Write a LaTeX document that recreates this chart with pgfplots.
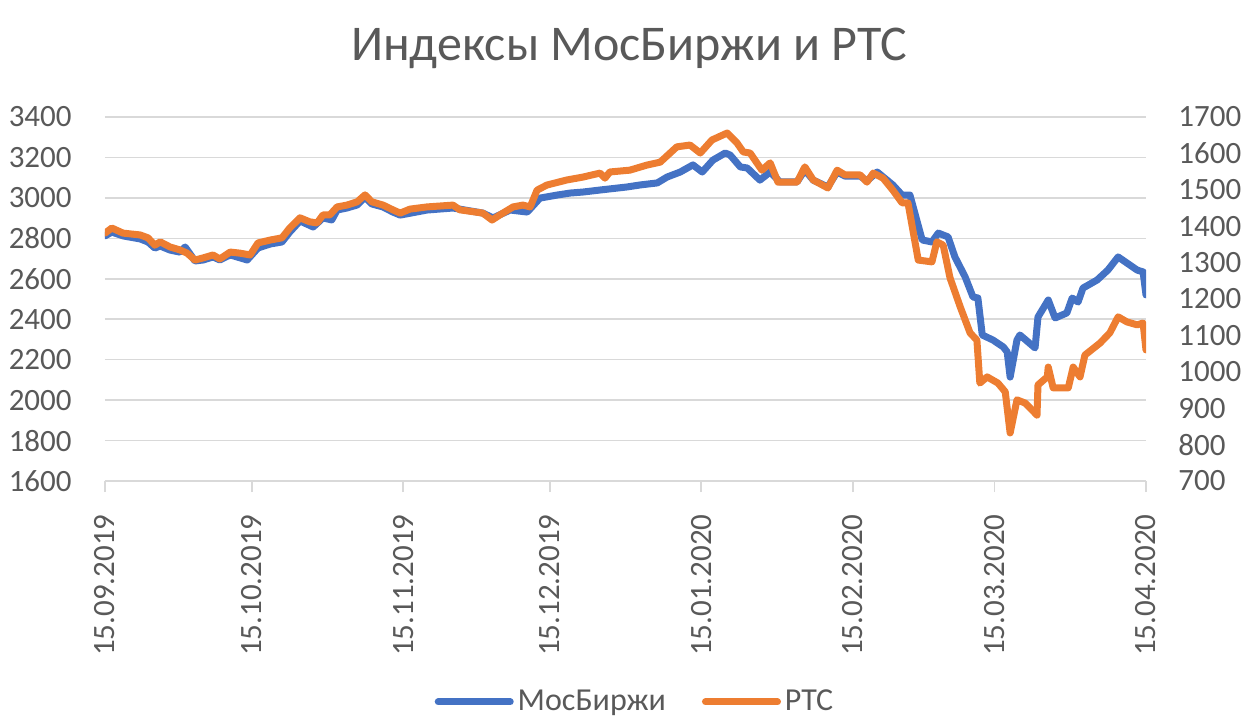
\documentclass[border=0pt]{standalone}
\usepackage{fontspec}
\setmainfont{Carlito}
\usepackage{pgfplots}
\pgfplotsset{compat=1.18}
\definecolor{cblue}{HTML}{4472C4}
\definecolor{corange}{HTML}{ED7D31}
\definecolor{ctext}{HTML}{595959}
\definecolor{cgrid}{HTML}{D9D9D9}
\begin{document}
\begin{tikzpicture}
\path[use as bounding box] (-52.5pt,-119.5pt) rectangle (569pt,240.5pt);
\pgfplotsset{
  common/.style={
    at={(0,0)}, anchor=south west,
    scale only axis, width=520.5pt, height=182pt,
    xmin=0, xmax=213,
    /pgf/number format/assume math mode=true,
    /pgf/number format/1000 sep={},
    ticklabel style={font=\fontsize{15.5}{18}\selectfont, text=ctext},
  }
}
\begin{axis}[common,
  ymin=1600, ymax=3400, ytick={1600,1800,...,3400},
  xtick={0,30,61,91,122,153,182,213},
  xticklabels={15.09.2019,15.10.2019,15.11.2019,15.12.2019,15.01.2020,15.02.2020,15.03.2020,15.04.2020},
  axis x line*=bottom, axis y line*=left,
  x axis line style={draw=cgrid, line width=0.9pt, -},
  y axis line style={draw=none},
  xtick style={draw=cgrid, line width=0.9pt},
  ytick style={draw=none},
  tick align=outside, major tick length=5.5pt,
  ymajorgrids, grid style={cgrid, line width=0.8pt},
  yticklabel style={anchor=east, inner sep=0pt, xshift=-11pt},
  xticklabel style={yshift=-11pt, rotate=90, anchor=east, inner sep=0pt},
]
\addplot[cblue, line width=3.5pt, line join=round, line cap=round] coordinates {
(0,2812) (1.4,2831) (3.7,2812) (7.2,2797) (8.8,2782) (10.2,2752) (11.3,2762) (13.3,2742)
(15.3,2732) (16.4,2757) (17.4,2723) (18.4,2688) (20.1,2693) (22.1,2708) (23.5,2693)
(25.6,2718) (29.1,2693) (31.3,2752) (33.8,2772) (36.2,2782) (37.8,2831) (39.9,2886)
(42.6,2856) (44.6,2901) (46.4,2891) (47.5,2940) (49.5,2950) (51.6,2965) (53.2,3004)
(54.6,2970) (56.9,2955) (58.9,2930) (60.4,2915) (65.9,2940) (71.2,2950) (77.3,2925)
(79.4,2901) (82.9,2940) (86.4,2930) (89.0,2999) (92.5,3014) (95.2,3024) (97.8,3029)
(101.3,3039) (106.8,3054) (109.5,3064) (113.0,3074) (115.0,3103) (117.7,3128)
(120.3,3163) (122.2,3128) (124.4,3187) (126.9,3222) (127.9,3212) (130.0,3153)
(131.4,3148) (134.0,3088) (136.1,3128) (138.1,3079) (141.6,3079) (143.2,3138)
(144.9,3088) (147.9,3054) (149.8,3128) (151.4,3108) (154.5,3108) (155.9,3084)
(158.0,3128) (160.0,3088) (161.2,3064) (163.1,3014) (164.7,3014) (167.2,2792)
(169.2,2782) (170.5,2826) (172.5,2807) (173.9,2708) (176.0,2609) (177.6,2510)
(178.6,2505) (179.5,2322) (181.7,2297) (183.8,2263) (184.6,2238) (185.2,2114)
(186.6,2297) (187.2,2322) (190.3,2258) (190.9,2411) (193.0,2495) (194.4,2406)
(196.8,2431) (197.9,2505) (199.1,2485) (200.1,2554) (203.0,2594) (205.2,2643)
(207.3,2708) (209.1,2678) (211.2,2643) (212.4,2634) (213.0,2520)
};
\end{axis}
\begin{axis}[common,
  ymin=700, ymax=1700, ytick={700,800,...,1700},
  axis x line=none, axis y line*=right,
  y axis line style={draw=none}, ytick style={draw=none},
  yticklabel style={anchor=west, inner sep=0pt, xshift=16pt},
  legend style={at={(0.51,-0.607)}, anchor=center, draw=none, fill=none,
    font=\fontsize{16}{18}\selectfont, text=ctext,
    /tikz/every even column/.append style={column sep=16pt}},
  legend columns=2,
  legend image code/.code={\draw[#1, line cap=round] (0pt,0pt) -- (36pt,0pt);},
]
\addlegendimage{cblue, line width=3.5pt}
\addlegendentry{МосБиржи}
\addplot[corange, line width=3.5pt, line join=round, line cap=round] coordinates {
(0,1381) (1.4,1395) (3.7,1381) (7.2,1376) (8.8,1368) (10.2,1348) (11.3,1357) (13.3,1343)
(15.3,1335) (16.8,1326) (18.4,1307) (20.1,1313) (22.1,1321) (23.5,1310) (25.6,1329)
(27.6,1326) (29.7,1321) (31.3,1354) (33.8,1362) (36.2,1368) (37.8,1395) (39.9,1423)
(41.9,1412) (43.4,1409) (44.6,1431) (46.0,1431) (47.5,1453) (49.5,1458) (51.6,1467)
(53.2,1486) (54.6,1467) (56.9,1458) (58.9,1445) (60.4,1436) (62.4,1447) (65.9,1453)
(71.2,1458) (72.6,1445) (77.3,1436) (79.2,1417) (80.8,1431) (83.5,1453) (85.5,1458)
(87.0,1453) (88.4,1499) (90.4,1513) (94.5,1527) (97.8,1535) (101.3,1546) (102.3,1532)
(103.3,1549) (107.4,1554) (110.9,1568) (113.6,1576) (117.0,1618) (119.7,1623)
(121.8,1601) (124.2,1637) (127.3,1656) (129.3,1629) (130.6,1604) (132.0,1601)
(134.4,1554) (136.1,1574) (137.7,1521) (141.6,1521) (143.2,1563) (144.9,1527)
(147.9,1505) (149.8,1554) (151.4,1541) (154.5,1541) (155.9,1521) (157.2,1546)
(159.2,1532) (161.2,1499) (163.1,1464) (164.3,1464) (166.4,1307) (169.2,1302)
(170.2,1357) (171.5,1348) (172.9,1258) (175.0,1178) (177.0,1107) (178.4,1087)
(179.0,969) (180.5,986) (182.7,969) (184.2,945) (185.2,832) (186.6,923) (188.3,914)
(190.7,881) (190.9,964) (192.8,986) (193.0,1013) (194.0,956) (197.1,956) (198.1,1013)
(199.5,986) (200.5,1046) (203.6,1079) (205.6,1107) (207.3,1151) (209.1,1137)
(211.2,1129) (212.4,1134) (213.0,1060)
};
\addlegendentry{РТС}
\end{axis}
\node[text=ctext, font=\fontsize{25}{29}\selectfont] at (262pt,216.5pt) {Индексы МосБиржи и РТС};
\end{tikzpicture}
\end{document}
